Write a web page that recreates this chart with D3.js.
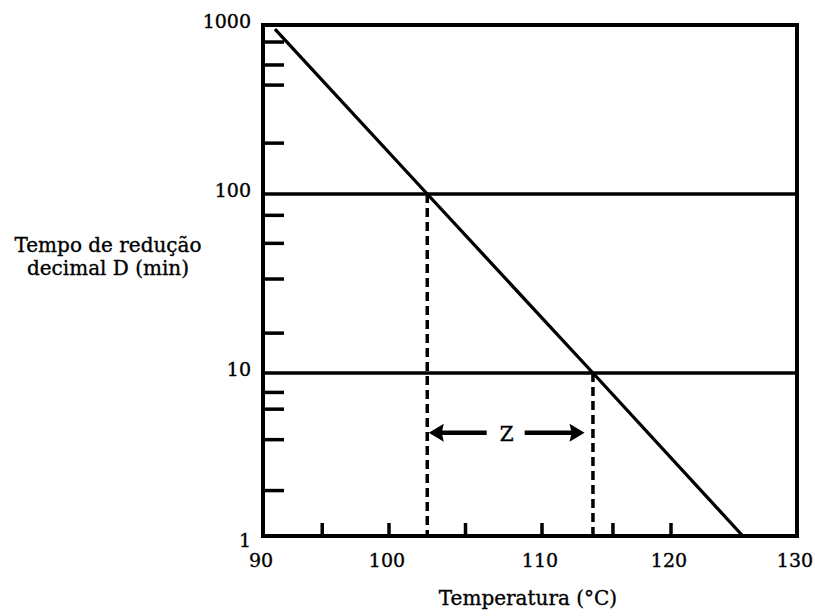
<!DOCTYPE html>
<html>
<head>
<meta charset="utf-8">
<script src="https://cdn.jsdelivr.net/npm/d3@7"></script>
<style>
  body { margin: 0; background: #fff; }
  text { font-family: "DejaVu Serif", serif; fill: #000; stroke: #000; stroke-width: 0.35px; }
</style>
</head>
<body>
<svg id="chart"></svg>
<script>
// values
const lineTemps = [90.95, 102.5, 113.95, 125.7];
const lineD = [946, 100, 10, 1];

const gridD = [10, 100];
const dashTemps = [102.5, 113.95];
const dashTopD = [100, 10];

const zSpan = [102.6, 113.3];
const zLevel = 4.3;

const xTickLabels = [90, 100, 110, 120, 130];
const xMinorTicks = [94.7, 100, 105, 110, 115.5, 120];
const yTickLabels = [1, 10, 100, 1000];
const yMinorTicks = [1.9, 3.9, 6, 7.6, 16.7, 33.5, 53, 76, 200, 441, 580, 793];

const width = 815, height = 616;
const plotLeft = 263, plotRight = 797, plotTop = 25, plotBottom = 536;

const svg = d3.select("#chart")
    .attr("width", width)
    .attr("height", height);

// hand drawn axes: decades and tens are not evenly spaced, so piecewise scales
const x = d3.scaleLinear()
    .domain([90, 100, 110, 120, 130])
    .range([plotLeft, 389, 542, 671, plotRight]);

const y = d3.scaleLog()
    .domain([1, 10, 100, 1000])
    .range([plotBottom, 373, 194, plotTop]);

// horizontal lines at 10 and 100
svg.selectAll(".grid")
    .data(gridD)
    .enter()
    .append("line")
    .attr("x1", plotLeft).attr("x2", plotRight)
    .attr("y1", d => y(d)).attr("y2", d => y(d))
    .attr("stroke", "#000")
    .attr("stroke-width", 3.5);

// dashed drop lines
svg.selectAll(".drop")
    .data(dashTemps)
    .enter()
    .append("line")
    .attr("x1", d => x(d)).attr("x2", d => x(d))
    .attr("y1", (d, i) => y(dashTopD[i]))
    .attr("y2", y(1))
    .attr("stroke", "#000")
    .attr("stroke-width", 3.5)
    .attr("stroke-dasharray", "9,5");

// minor ticks on y (inside)
svg.selectAll(".ytick")
    .data(yMinorTicks)
    .enter()
    .append("line")
    .attr("x1", plotLeft).attr("x2", plotLeft + 21)
    .attr("y1", d => y(d)).attr("y2", d => y(d))
    .attr("stroke", "#000")
    .attr("stroke-width", 3.5);

// ticks on x (inside, pointing up)
svg.selectAll(".xtick")
    .data(xMinorTicks)
    .enter()
    .append("line")
    .attr("x1", d => x(d)).attr("x2", d => x(d))
    .attr("y1", plotBottom).attr("y2", plotBottom - 13)
    .attr("stroke", "#000")
    .attr("stroke-width", 3.5);

// frame
svg.append("rect")
    .attr("x", plotLeft).attr("y", plotTop)
    .attr("width", plotRight - plotLeft).attr("height", plotBottom - plotTop)
    .attr("fill", "none")
    .attr("stroke", "#000")
    .attr("stroke-width", 4);

// the D line
const line = d3.line()
    .x((d, i) => x(lineTemps[i]))
    .y(d => y(d));

svg.append("path")
    .datum(lineD)
    .attr("d", line)
    .attr("fill", "none")
    .attr("stroke", "#000")
    .attr("stroke-width", 3.3);

// Z arrows
const za = x(zSpan[0]), zb = x(zSpan[1]), zy = y(zLevel);
const zMid = (za + zb) / 2;

svg.append("line")
    .attr("x1", za + 12).attr("x2", zMid - 20)
    .attr("y1", zy).attr("y2", zy)
    .attr("stroke", "#000").attr("stroke-width", 4.5);
svg.append("line")
    .attr("x1", zMid + 18).attr("x2", zb - 12)
    .attr("y1", zy).attr("y2", zy)
    .attr("stroke", "#000").attr("stroke-width", 4.5);

svg.append("path")
    .attr("d", `M${za},${zy} L${za + 15},${zy - 9} L${za + 13},${zy} L${za + 15},${zy + 9} Z`)
    .attr("fill", "#000");
svg.append("path")
    .attr("d", `M${zb},${zy} L${zb - 15},${zy - 9} L${zb - 13},${zy} L${zb - 15},${zy + 9} Z`)
    .attr("fill", "#000");

svg.append("text")
    .attr("x", zMid)
    .attr("y", zy + 8)
    .attr("text-anchor", "middle")
    .attr("font-size", 20)
    .text("Z");

// tick labels
svg.selectAll(".ylab")
    .data(yTickLabels)
    .enter()
    .append("text")
    .attr("x", 251)
    .attr("y", d => y(d) + (d === 1 ? 11 : 3))
    .attr("text-anchor", "end")
    .attr("font-size", 19)
    .text(d => d);

svg.selectAll(".xlab")
    .data(xTickLabels)
    .enter()
    .append("text")
    .attr("x", d => x(d) - 2)
    .attr("y", 567)
    .attr("text-anchor", "middle")
    .attr("font-size", 19)
    .text(d => d);

// axis titles
svg.append("text")
    .attr("x", 108).attr("y", 252)
    .attr("text-anchor", "middle")
    .attr("font-size", 20)
    .text("Tempo de redução");
svg.append("text")
    .attr("x", 108).attr("y", 275)
    .attr("text-anchor", "middle")
    .attr("font-size", 20)
    .text("decimal D (min)");

svg.append("text")
    .attr("x", 528).attr("y", 605)
    .attr("text-anchor", "middle")
    .attr("font-size", 20)
    .text("Temperatura (°C)");
</script>
</body>
</html>
